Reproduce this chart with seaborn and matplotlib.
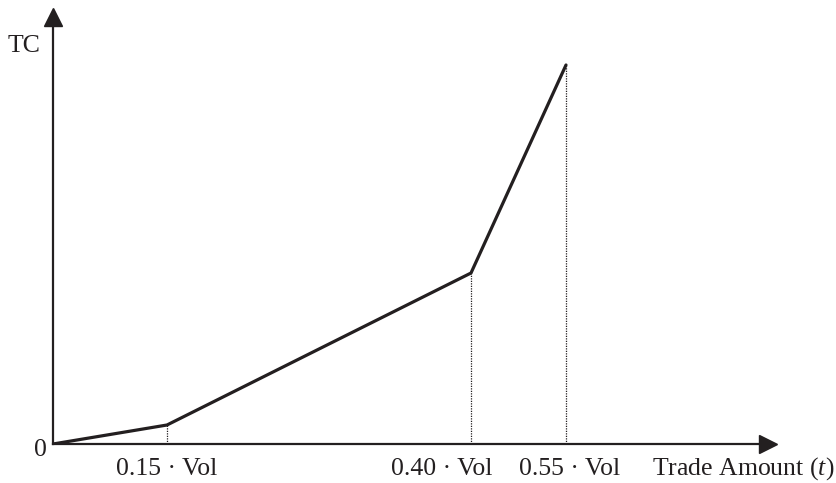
import matplotlib
matplotlib.use("Agg")

import pandas as pd
import matplotlib.pyplot as plt
import seaborn as sns

# ===============================
# 数据：示意图的折点（横轴为示意位置，非真实比例）
# ===============================
trade_pos = [0.0, 1.14, 4.18, 5.13]
tc_values = [0.0, 0.19, 1.71, 3.79]
tick_labels = ["0.15 · Vol", "0.40 · Vol", "0.55 · Vol"]

df = pd.DataFrame({"trade": trade_pos, "tc": tc_values})

sns.set_theme(style="white")
plt.rcParams["font.family"] = ["Liberation Serif", "DejaVu Serif"]
plt.rcParams["mathtext.fontset"] = "custom"
plt.rcParams["mathtext.rm"] = "Liberation Serif"
plt.rcParams["mathtext.it"] = "Liberation Serif:italic"

ink = "#231f20"
fs = 18.5

fig = plt.figure(figsize=(8.37, 4.83), dpi=100)
ax = fig.add_axes([53 / 837, 39 / 483, 715 / 837, 427 / 483])

sns.lineplot(data=df, x="trade", y="tc", color=ink, linewidth=2.3, ax=ax)

# 虚线：从折点垂直落到横轴
ax.vlines(trade_pos[1:], 0, tc_values[1:], colors=ink,
          linestyles=(0, (1, 1)), linewidth=0.9)

ax.set_xlim(0, 7.15)
ax.set_ylim(0, 4.27)

# 坐标轴样式
for side in ["top", "right"]:
    ax.spines[side].set_visible(False)
for side in ["left", "bottom"]:
    ax.spines[side].set_color(ink)
    ax.spines[side].set_linewidth(1.6)

ax.plot(1, 0, ">", color=ink, markersize=13, transform=ax.get_yaxis_transform(), clip_on=False)
ax.plot(0, 1, "^", color=ink, markersize=13, transform=ax.get_xaxis_transform(), clip_on=False)

# 刻度标签：0.40 的标签向左让开，避免与 0.55 重叠
label_pos = [1.14, 3.89, 5.17]
ax.set_xticks(label_pos, tick_labels)
ax.set_yticks([])
ax.tick_params(axis="x", length=0, pad=10, labelsize=fs, labelcolor=ink)
ax.set_xlabel("")
ax.set_ylabel("")

ax.text(-0.06, -0.06, "0", fontsize=fs, color=ink, ha="right", va="center")
ax.text(-0.13, 3.98, "TC", fontsize=fs, color=ink, ha="right", va="center")
ax.text(5.99, -0.25, "Trade Amount ($t$)", fontsize=fs, color=ink, ha="left", va="center")

fig.savefig("out.png", dpi=100)
plt.close(fig)
